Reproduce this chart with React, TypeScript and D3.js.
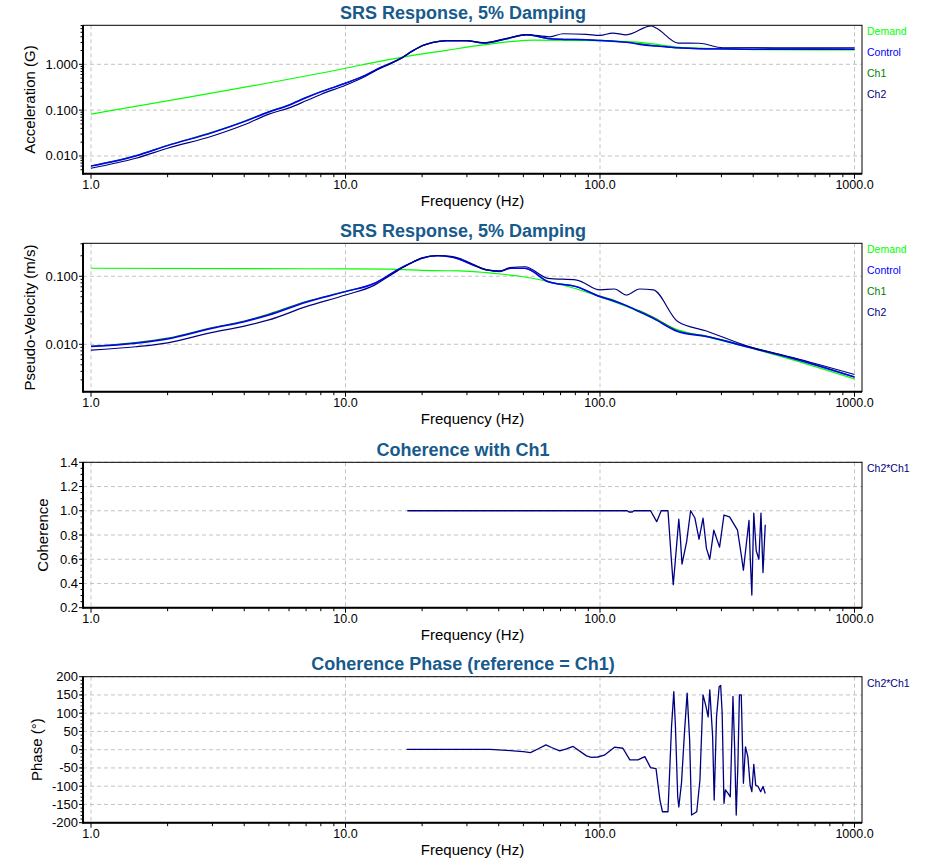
import React from "react";
import * as d3 from "d3";

// ---- SRS acceleration (G)
const demandAccHz = [1, 10, 13.6, 18.4, 24.9, 33.7, 45.6, 54.6, 100, 135, 172, 206, 245, 400, 1000];
const demandAcc = [0.082, 0.82, 1.16, 1.57, 2.02, 2.59, 3.17, 3.38, 3.27, 3.09, 2.67, 2.34, 2.27, 2.1, 2.05];

const accHz = [1, 1.5, 2, 3, 4, 5, 6, 7, 8, 10, 12, 13.6, 14.9, 16.4, 18.4, 20.2, 22.1, 24.9, 29.9, 34.8, 43, 51.5, 63.5, 71.6, 88.5, 100, 112, 127, 159, 167, 203, 245, 304, 400, 500, 700, 1000];
const controlAcc = [0.006, 0.01, 0.0168, 0.0323, 0.056, 0.091, 0.128, 0.186, 0.25, 0.385, 0.58, 0.83, 1.03, 1.32, 1.98, 2.59, 3.01, 3.27, 3.27, 2.91, 3.61, 4.41, 3.61, 3.5, 3.45, 3.3, 3.2, 3.01, 2.54, 2.5, 2.3, 2.19, 2.15, 2.13, 2.12, 2.12, 2.12];
const ch1Acc = [0.0061, 0.0102, 0.0171, 0.033, 0.057, 0.093, 0.131, 0.19, 0.255, 0.39, 0.585, 0.83, 1.03, 1.32, 1.98, 2.6, 3.02, 3.28, 3.27, 2.93, 3.6, 4.4, 3.62, 3.52, 3.47, 3.32, 3.22, 3.05, 2.6, 2.52, 2.28, 2.2, 2.22, 2.3, 2.2, 2.2, 2.15];
const ch2Acc = [0.0054, 0.0089, 0.0147, 0.0273, 0.048, 0.082, 0.112, 0.16, 0.22, 0.35, 0.55, 0.8, 1.01, 1.32, 1.98, 2.59, 3.01, 3.27, 3.3, 2.96, 3.7, 4.45, 3.98, 4.64, 4.5, 4.27, 4.8, 4.41, 6.9, 6.1, 2.91, 2.88, 2.3, 2.3, 2.3, 2.3, 2.3];

// ---- SRS pseudo-velocity (m/s)
const demandPvHz = [1, 7, 15, 18, 22, 28, 35.8, 41.5, 48.4, 63, 81, 100, 143, 202, 262, 376, 572, 1000];
const demandPv = [0.131, 0.129, 0.127, 0.124, 0.121, 0.12, 0.113, 0.107, 0.1, 0.083, 0.065, 0.05, 0.03, 0.0163, 0.0129, 0.0092, 0.0059, 0.0031];

const pvHz = [1, 1.5, 2, 3, 4, 5, 7, 10, 13, 14.5, 16, 18, 20, 23, 26, 28, 31.7, 35.8, 40.4, 44.3, 50.7, 62.5, 81, 100, 114, 127, 143, 162, 202, 262, 376, 572, 1000];
const controlPv = [0.0093, 0.0104, 0.012, 0.0172, 0.0215, 0.027, 0.0415, 0.0594, 0.079, 0.099, 0.124, 0.155, 0.184, 0.2, 0.192, 0.178, 0.146, 0.124, 0.117, 0.131, 0.131, 0.083, 0.07, 0.05, 0.043, 0.037, 0.03, 0.024, 0.0154, 0.013, 0.0092, 0.0062, 0.0033];
const ch1Pv = [0.0094, 0.0106, 0.0123, 0.0176, 0.022, 0.0278, 0.0425, 0.06, 0.079, 0.099, 0.124, 0.155, 0.184, 0.2, 0.192, 0.178, 0.147, 0.125, 0.118, 0.13, 0.13, 0.084, 0.07, 0.051, 0.044, 0.037, 0.031, 0.025, 0.0158, 0.0132, 0.0094, 0.0063, 0.0033];
const ch2Pv = [0.0082, 0.0092, 0.0105, 0.015, 0.0185, 0.0228, 0.0357, 0.053, 0.074, 0.095, 0.12, 0.155, 0.186, 0.202, 0.196, 0.184, 0.15, 0.124, 0.12, 0.134, 0.138, 0.093, 0.088, 0.063, 0.065, 0.053, 0.065, 0.063, 0.0216, 0.0157, 0.0095, 0.0064, 0.0036];

// ---- Coherence Ch2*Ch1
const cohHz = [17.5, 128, 130, 134, 136, 158, 167, 174, 185, 191, 194, 197, 201, 204, 207, 210, 219, 227, 236, 245, 254, 262, 270, 280, 295, 307, 323, 347, 359, 366, 376, 385, 389, 395, 402, 411, 421, 429, 437, 446];
const coherence = [1, 1, 0.99, 0.99, 1, 1, 0.91, 1, 1, 0.58, 0.39, 0.55, 0.77, 0.93, 0.77, 0.56, 0.745, 1, 0.94, 0.765, 0.94, 0.69, 0.6, 0.84, 0.7, 0.965, 0.95, 0.84, 0.635, 0.51, 0.73, 0.92, 0.63, 0.305, 0.98, 0.67, 0.6, 0.98, 0.49, 0.885];

// ---- Coherence phase (deg)
const phaseHz = [17.4, 37, 41.4, 45.6, 50, 53.3, 57, 61.3, 64.5, 69.5, 73.8, 78.4, 88.5, 92.5, 98, 104, 114, 123, 131, 141, 150, 158, 166, 172, 176, 185, 191, 195, 198, 202, 204, 209, 215, 220, 225, 229, 240, 247, 254, 261, 266, 270, 277, 281, 287, 294, 298, 302, 307, 311, 318, 325, 333, 338, 343, 348, 353, 359, 366, 373, 381, 389, 395, 402, 409, 418, 428, 437, 446];
const phase = [1, 1, -1, -3, -5.5, -8, 2, 13, 6, -3, 2, 9, -17, -21, -20, -15, 7, 4, -28, -28, -19, -49, -52, -138, -170, -170, 63, 159, 59, -129, -157, -92, 53, 155, 27, -179, -170, -83, 150, 118, 90, 164, 37, -138, 90, 173, 176, 100, -147, -110, -119, -129, 146, 8, -179, -47, 150, 150, -92, 8, -19, -97, -115, -40, -97, -101, -115, -101, -120];

const xTicks = [1, 10, 100, 1000];

const FONT = '"Liberation Sans", Arial, sans-serif';
const TITLE_COLOR = "#175a8c";
const C = { demand: "#00ff00", control: "#0000ff", ch1: "#008000", ch2: "#000080" };

const PLOT_LEFT = 83;
const PLOT_RIGHT = 862;

const x = d3.scaleLog().domain([1, 1000]).range([91, 854.5]);

type Series = { name: string; color: string; hz: number[]; values: number[]; width?: number };

type PanelProps = {
  id: string;
  title: string;
  yLabel: string;
  yLabelX: number;
  top: number;
  bottom: number;
  y: d3.ScaleContinuousNumeric<number, number>;
  majorY: number[];
  minorY: number[];
  yFormat: (v: number) => string;
  series: Series[];
  legend: Series[];
  smooth?: boolean;
};

const logMinor = (lo: number, hi: number) => {
  const out: number[] = [];
  for (let e = -4; e <= 3; e++) {
    for (let m = 2; m <= 9; m++) {
      const v = m * Math.pow(10, e);
      if (v > lo && v < hi) out.push(v);
    }
  }
  return out;
};

const xMinor = logMinor(0.95, 1070);

function Panel(p: PanelProps) {
  const line = (s: Series) =>
    d3
      .line<number>()
      .x((_, i) => x(s.hz[i]))
      .y((v) => p.y(v))
      .curve(p.smooth ? d3.curveMonotoneX : d3.curveLinear)(s.values) || "";
  const midX = (PLOT_LEFT + PLOT_RIGHT) / 2;
  const midY = (p.top + p.bottom) / 2;
  return (
    <g fontFamily={FONT}>
      <defs>
        <clipPath id={`clip-${p.id}`}>
          <rect x={PLOT_LEFT} y={p.top} width={PLOT_RIGHT - PLOT_LEFT} height={p.bottom - p.top} />
        </clipPath>
      </defs>
      <text x={463} y={p.top - 6.7} textAnchor="middle" fontSize={18} fontWeight="bold" fill={TITLE_COLOR}>
        {p.title}
      </text>
      {/* grid */}
      {xTicks.map((t) => (
        <line key={`gx${t}`} x1={x(t)} x2={x(t)} y1={p.top} y2={p.bottom} stroke="#c4c4c4" strokeDasharray="4,3" />
      ))}
      {p.majorY.map((t) => (
        <line key={`gy${t}`} x1={PLOT_LEFT} x2={PLOT_RIGHT} y1={p.y(t)} y2={p.y(t)} stroke="#c4c4c4" strokeDasharray="4,3" />
      ))}
      {/* data */}
      <g clipPath={`url(#clip-${p.id})`}>
        {p.series.map((s) => (
          <path key={s.name} d={line(s)} fill="none" stroke={s.color} strokeWidth={s.width ?? 1.2} strokeLinejoin="round" />
        ))}
      </g>
      {/* frame */}
      <rect x={PLOT_LEFT} y={p.top} width={PLOT_RIGHT - PLOT_LEFT} height={p.bottom - p.top} fill="none" stroke="#000" strokeWidth={1} />
      <line x1={PLOT_LEFT} x2={PLOT_LEFT} y1={p.top} y2={p.bottom + 1} stroke="#000" strokeWidth={2} />
      <line x1={PLOT_LEFT} x2={PLOT_RIGHT} y1={p.bottom} y2={p.bottom} stroke="#000" strokeWidth={2} />
      {/* x ticks */}
      {xTicks.map((t) => (
        <g key={`xt${t}`}>
          <line x1={x(t)} x2={x(t)} y1={p.bottom} y2={p.bottom + 5} stroke="#000" />
          <text x={x(t)} y={p.bottom + 15.5} textAnchor="middle" fontSize={12.5}>
            {t.toFixed(1)}
          </text>
        </g>
      ))}
      {xMinor.map((t) => (
        <line key={`xm${t}`} x1={x(t)} x2={x(t)} y1={p.bottom} y2={p.bottom + 3.5} stroke="#000" />
      ))}
      <text x={midX} y={p.bottom + 32} textAnchor="middle" fontSize={15}>
        Frequency (Hz)
      </text>
      {/* y ticks */}
      {p.majorY.map((t) => (
        <g key={`yt${t}`}>
          <line x1={PLOT_LEFT - 4} x2={PLOT_LEFT} y1={p.y(t)} y2={p.y(t)} stroke="#000" />
          <text x={78} y={p.y(t) + 4.5} textAnchor="end" fontSize={13}>
            {p.yFormat(t)}
          </text>
        </g>
      ))}
      {p.minorY.map((t) => (
        <line key={`ym${t}`} x1={PLOT_LEFT - 2.5} x2={PLOT_LEFT} y1={p.y(t)} y2={p.y(t)} stroke="#000" />
      ))}
      <text
        transform={`translate(${p.yLabelX},${midY}) rotate(-90)`}
        textAnchor="middle"
        fontSize={15}
      >
        {p.yLabel}
      </text>
      {/* legend */}
      {p.legend.map((s, i) => (
        <text key={`lg${s.name}`} x={867} y={p.top + 10 + i * 21} fontSize={10.5} fill={s.color}>
          {s.name}
        </text>
      ))}
    </g>
  );
}

export default function App() {
  const accSeries: Series[] = [
    { name: "Demand", color: C.demand, hz: demandAccHz, values: demandAcc },
    { name: "Ch1", color: C.ch1, hz: accHz, values: ch1Acc },
    { name: "Control", color: C.control, hz: accHz, values: controlAcc, width: 1.5 },
    { name: "Ch2", color: C.ch2, hz: accHz, values: ch2Acc },
  ];
  const pvSeries: Series[] = [
    { name: "Demand", color: C.demand, hz: demandPvHz, values: demandPv },
    { name: "Ch1", color: C.ch1, hz: pvHz, values: ch1Pv },
    { name: "Control", color: C.control, hz: pvHz, values: controlPv, width: 1.5 },
    { name: "Ch2", color: C.ch2, hz: pvHz, values: ch2Pv },
  ];
  const legendOrder = (s: Series[]) =>
    ["Demand", "Control", "Ch1", "Ch2"].map((n) => s.find((d) => d.name === n)!);
  const cohSeries: Series[] = [{ name: "Ch2*Ch1", color: C.ch2, hz: cohHz, values: coherence, width: 1.3 }];
  const phaseSeries: Series[] = [{ name: "Ch2*Ch1", color: C.ch2, hz: phaseHz, values: phase, width: 1.3 }];

  const yAcc = d3.scaleLog().domain([0.0041, 7.1]).range([173.7, 25.3]);
  const yPv = d3.scaleLog().domain([0.00201, 0.305]).range([391.7, 243.3]);
  const yCoh = d3.scaleLinear().domain([0.2, 1.4]).range([607.7, 462.3]);
  const yPh = d3.scaleLinear().domain([-200, 200]).range([822.7, 676.7]);

  return (
    <svg
      width={927}
      height={867}
      style={{ position: "absolute", left: 0, top: 0, background: "#fff" }}
    >
      <rect width={927} height={867} fill="#fff" />
      <Panel
        id="acc"
        title="SRS Response, 5% Damping"
        yLabel="Acceleration (G)"
        yLabelX={35}
        top={25.3}
        bottom={173.7}
        y={yAcc}
        majorY={[0.01, 0.1, 1]}
        minorY={logMinor(0.0041, 7.1)}
        yFormat={(v) => v.toFixed(3)}
        series={accSeries}
        legend={legendOrder(accSeries)}
        smooth
      />
      <Panel
        id="pv"
        title="SRS Response, 5% Damping"
        yLabel="Pseudo-Velocity (m/s)"
        yLabelX={35}
        top={243.3}
        bottom={391.7}
        y={yPv}
        majorY={[0.01, 0.1]}
        minorY={logMinor(0.00201, 0.305)}
        yFormat={(v) => v.toFixed(3)}
        series={pvSeries}
        legend={legendOrder(pvSeries)}
        smooth
      />
      <Panel
        id="coh"
        title="Coherence with Ch1"
        yLabel="Coherence"
        yLabelX={47.5}
        top={462.3}
        bottom={607.7}
        y={yCoh}
        majorY={d3.range(0.2, 1.41, 0.2)}
        minorY={d3.range(0.25, 1.4, 0.05)}
        yFormat={(v) => v.toFixed(1)}
        series={cohSeries}
        legend={cohSeries}
      />
      <Panel
        id="ph"
        title="Coherence Phase (reference = Ch1)"
        yLabel="Phase (°)"
        yLabelX={41.5}
        top={676.7}
        bottom={822.7}
        y={yPh}
        majorY={d3.range(-200, 201, 50)}
        minorY={d3.range(-190, 200, 10)}
        yFormat={(v) => String(Math.round(v))}
        series={phaseSeries}
        legend={phaseSeries}
      />
    </svg>
  );
}
